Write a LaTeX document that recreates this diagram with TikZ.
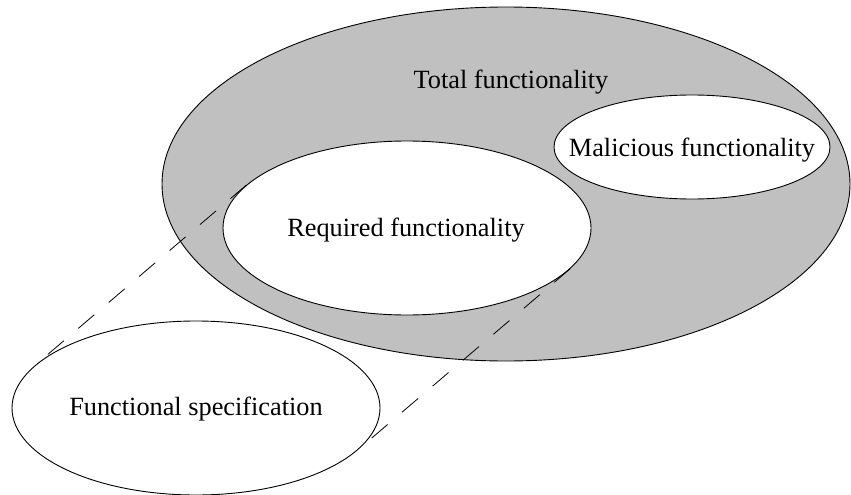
\documentclass[tikz,border=0pt]{standalone}
\usepackage{fontspec}
\setmainfont{Liberation Serif}
\usetikzlibrary{shapes.geometric}
\definecolor{setgrey}{RGB}{192,192,192}
\begin{document}
\begin{tikzpicture}[x=1pt,y=-1pt,
  setshape/.style={ellipse, draw=black, line width=0.9pt, inner sep=0pt},
  outerset/.style={setshape, fill=setgrey},
  innerset/.style={setshape, fill=white},
  setlabel/.style={font=\fontsize{26.3}{30}\selectfont, inner sep=0pt},
  projection/.style={draw=black, line width=0.8pt, dash pattern=on 21pt off 19pt}
]
\useasboundingbox (0,0) rectangle (851,495);

% whole set of functions
\node[outerset, minimum width=688pt, minimum height=354pt] (total) at (506,184) {};
\node[setlabel] (totaltext) at (511,82) {Total functionality};

% subsets inside it
\node[innerset, minimum width=276pt, minimum height=104pt] (mal) at (692,147) {};
\node[setlabel] (maltext) at (692,150) {Malicious functionality};

\node[innerset, minimum width=368pt, minimum height=174pt] (req) at (407,228) {};
\node[setlabel] (reqtext) at (406,230) {Required functionality};

% the specification, a copy of the required set
\node[innerset, minimum width=368pt, minimum height=174pt] (spec) at (196,408) {};
\node[setlabel] (spectext) at (196,409) {Functional specification};

% common tangents between the two copies
\draw[projection] (req.165.4) -- (spec.165.4);
\draw[projection] (req.-14.6) -- (spec.-14.6);
\end{tikzpicture}
\end{document}
